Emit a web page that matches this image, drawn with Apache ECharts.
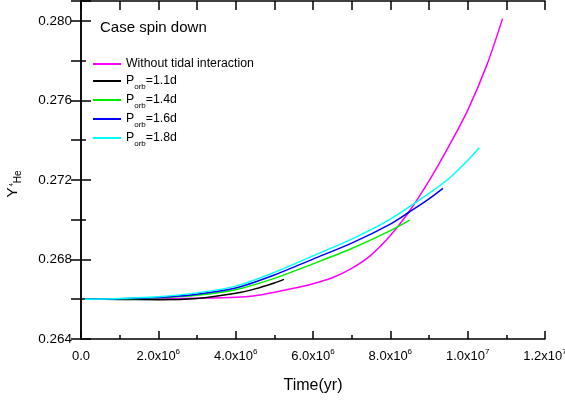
<!DOCTYPE html>
<html>
<head>
<meta charset="utf-8">
<script src="https://cdn.jsdelivr.net/npm/echarts@6/dist/echarts.min.js"></script>
<style>
  html, body { margin: 0; padding: 0; background: #fff; }
  #main { width: 565px; height: 401px; }
</style>
</head>
<body>
<div id="main"></div>
<script>
// time in units of 1e6 yr, Y(4He)
const noTidal = [[0.1,0.266],[1,0.266],[2,0.26602],[3,0.26605],[4,0.2661],[4.5,0.26618],[5,0.26635],[5.5,0.26655],[6,0.26678],[6.5,0.26708],[7,0.26755],[7.5,0.26822],[8,0.2692],[8.5,0.27045],[9,0.27195],[9.5,0.27365],[10,0.2755],[10.5,0.2778],[10.9,0.2801]];
const porb11 = [[0.1,0.266],[1,0.26599],[2,0.26598],[3,0.26604],[4,0.2663],[4.5,0.26652],[5,0.26682],[5.25,0.267]];
const porb14 = [[0.1,0.266],[1,0.26602],[2,0.26607],[3,0.2662],[4,0.26648],[5,0.26705],[6,0.26778],[7,0.26855],[8,0.26945],[8.5,0.26998]];
const porb16 = [[0.1,0.266],[1,0.26603],[2,0.26609],[3,0.26625],[4,0.26656],[5,0.26722],[6,0.26802],[7,0.26882],[8,0.26978],[8.5,0.2704],[9,0.27105],[9.36,0.27158]];
const porb18 = [[0.1,0.266],[1,0.26604],[2,0.26613],[3,0.26632],[4,0.26666],[5,0.26735],[6,0.26818],[7,0.26902],[8,0.27003],[9,0.27133],[9.5,0.27205],[10,0.27298],[10.3,0.27362]];

const seriesNames = ['Without tidal interaction', 'Porb=1.1d', 'Porb=1.4d', 'Porb=1.6d', 'Porb=1.8d'];
const seriesColors = ['#ff00ff', '#000000', '#00ee00', '#0000ff', '#00ffff'];
const seriesData = [noTidal, porb11, porb14, porb16, porb18];

const xTickMant = ['0.0', '2.0x10', '4.0x10', '6.0x10', '8.0x10', '1.0x10', '1.2x10'];
const xTickExp = ['', '6', '6', '6', '6', '7', '7'];

const FONT = 'Liberation Sans, Arial, sans-serif';

const chart = echarts.init(document.getElementById('main'), null, { renderer: 'canvas' });

const frameLine = { show: true, lineStyle: { color: '#000', width: 1.5 } };

const option = {
  animation: false,
  title: {
    text: 'Case spin down',
    left: 100,
    top: 20,
    padding: 0,
    textStyle: { fontFamily: FONT, fontSize: 15, fontWeight: 'normal', color: '#000' }
  },
  legend: {
    orient: 'vertical',
    left: 93,
    top: 56,
    padding: 0,
    itemGap: -1,
    itemWidth: 28,
    itemHeight: 2,
    icon: 'rect',
    data: seriesNames,
    formatter: (name) => {
      if (name.startsWith('Porb')) return '{p|P}{s|orb}{p|' + name.slice(4) + '}';
      return '{w|' + name + '}';
    },
    textStyle: {
      fontFamily: FONT,
      color: '#000',
      rich: {
        w: { fontFamily: FONT, fontSize: 12.3, lineHeight: 16, padding: [2, 0, 2, 0], color: '#000' },
        p: { fontFamily: FONT, fontSize: 12.3, lineHeight: 16, color: '#000' },
        s: { fontFamily: FONT, fontSize: 8, lineHeight: 8, padding: [12, 0, 0, 0], color: '#000' }
      }
    }
  },
  grid: { left: 81, right: 20, top: 1, bottom: 62, containLabel: false, outerBoundsMode: 'none' },
  xAxis: [
    {
      type: 'value',
      position: 'bottom',
      min: 0,
      max: 12e6,
      interval: 2e6,
      name: 'Time(yr)',
      nameLocation: 'middle',
      nameGap: 39,
      nameTextStyle: { fontFamily: FONT, fontSize: 16, color: '#000' },
      axisLine: frameLine,
      axisTick: { inside: true, length: 8, lineStyle: { color: '#000', width: 1.5 } },
      minorTick: { show: true, splitNumber: 2, length: 4, lineStyle: { color: '#000', width: 1.5 } },
      splitLine: { show: false },
      axisLabel: {
        margin: 9,
        formatter: (v) => {
          const i = Math.round(v / 2e6);
          if (i === 0) return '{a|' + xTickMant[0] + '}';
          return '{a|' + xTickMant[i] + '}{b|' + xTickExp[i] + '}';
        },
        rich: {
          a: { fontFamily: FONT, fontSize: 13, lineHeight: 16, color: '#000' },
          b: { fontFamily: FONT, fontSize: 8, lineHeight: 8, verticalAlign: 'top', color: '#000' }
        }
      }
    },
    {
      type: 'value',
      position: 'top',
      min: 0,
      max: 12e6,
      interval: 1e6,
      axisLine: frameLine,
      axisTick: { inside: true, length: 9, lineStyle: { color: '#000', width: 1.5 } },
      axisLabel: { show: false },
      splitLine: { show: false }
    }
  ],
  yAxis: [
    {
      type: 'value',
      position: 'left',
      min: 0.264,
      max: 0.281,
      interval: 0.004,
      name: '{y|Y}{sup|4}{sub|He}',
      nameLocation: 'middle',
      nameGap: 59,
      nameRotate: 90,
      nameTextStyle: {
        padding: [0, 28, 0, 0],
        rich: {
          y: { fontFamily: FONT, fontSize: 15, lineHeight: 18, color: '#000' },
          sup: { fontFamily: FONT, fontSize: 6, lineHeight: 6, verticalAlign: 'top', padding: [4, 0, 0, 1], color: '#000' },
          sub: { fontFamily: FONT, fontSize: 10, lineHeight: 10, padding: [10, 0, 0, 0], color: '#000' }
        }
      },
      axisLine: frameLine,
      axisTick: { inside: true, length: 10, lineStyle: { color: '#000', width: 1.5 } },
      minorTick: { show: true, splitNumber: 2, length: 5, lineStyle: { color: '#000', width: 1.5 } },
      splitLine: { show: false },
      axisLabel: {
        margin: 9,
        showMaxLabel: false,
        fontFamily: FONT,
        fontSize: 13.5,
        color: '#000',
        formatter: (v) => v.toFixed(3)
      }
    },
    {
      type: 'value',
      position: 'right',
      min: 0.264,
      max: 0.281,
      interval: 0.002,
      axisLine: frameLine,
      axisTick: { inside: true, length: 10, lineStyle: { color: '#000', width: 1.5 } },
      axisLabel: { show: false },
      splitLine: { show: false }
    }
  ],
  series: seriesNames.map((name, k) => ({
    name: name,
    type: 'line',
    xAxisIndex: 0,
    yAxisIndex: 0,
    data: seriesData[k].map((p) => [p[0] * 1e6, p[1]]),
    smooth: 0.3,
    symbol: 'none',
    color: seriesColors[k],
    lineStyle: { color: seriesColors[k], width: 1.5 }
  }))
};

chart.setOption(option);
window.addEventListener('resize', chart.resize);
</script>
</body>
</html>
